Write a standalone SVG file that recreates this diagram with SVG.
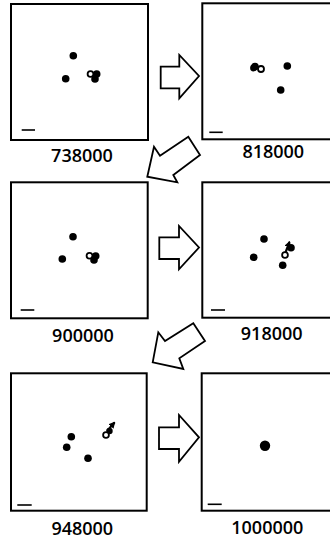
<svg xmlns="http://www.w3.org/2000/svg" width="330" height="543" viewBox="0 0 330 543">
<style>
.frame{fill:#fff;stroke:#000;stroke-width:2}
.dot{fill:#000}
.open{fill:#fff;stroke:#000;stroke-width:1.8}
.bar{stroke:#000;stroke-width:1.6}
.lbl{font-family:"Open Sans","Liberation Sans",sans-serif;font-size:18px;font-weight:600;fill:#000;text-anchor:middle}
.arrow{fill:#fff;stroke:#000;stroke-width:1.8;stroke-linejoin:miter}
.vec{stroke:#000;stroke-width:2.2;fill:none}
</style>
<defs>
<marker id="ah" viewBox="0 0 10 10" refX="8" refY="5" markerWidth="3" markerHeight="3" orient="auto">
<path d="M0,0 L10,5 L0,10 z" fill="#000"/>
</marker>
</defs>
<rect width="330" height="543" fill="#fff"/>

<g id="panel-738000">
<rect class="frame" x="11" y="4" width="137" height="136"/>
<circle class="dot" cx="73.3" cy="55.7" r="3.8"/>
<circle class="dot" cx="65.7" cy="78.7" r="3.8"/>
<circle class="dot" cx="96.7" cy="74" r="3.8"/>
<circle class="dot" cx="95" cy="79" r="3.8"/>
<circle class="open" cx="90.5" cy="74" r="2.9"/>
<line class="bar" x1="21.7" y1="130" x2="35" y2="130"/>
<text class="lbl" x="82" y="162">738000</text>
</g>

<g id="panel-818000">
<rect class="frame" x="202.3" y="3.3" width="132" height="136"/>
<circle class="dot" cx="255" cy="66.5" r="3.8"/>
<circle class="dot" cx="253.5" cy="68" r="3.4"/>
<circle class="open" cx="261" cy="69" r="3"/>
<circle class="dot" cx="287.3" cy="66" r="3.8"/>
<circle class="dot" cx="280.7" cy="90" r="3.8"/>
<line class="bar" x1="209.3" y1="132.3" x2="222.7" y2="132.3"/>
<text class="lbl" x="273.3" y="158.3">818000</text>
</g>

<g id="panel-900000">
<rect class="frame" x="11" y="182.3" width="136.7" height="136"/>
<circle class="dot" cx="73" cy="236.7" r="3.8"/>
<circle class="dot" cx="62.3" cy="259" r="3.8"/>
<circle class="dot" cx="95.7" cy="256" r="3.8"/>
<circle class="dot" cx="94" cy="260" r="3.8"/>
<circle class="open" cx="89.5" cy="255.7" r="2.9"/>
<line class="bar" x1="20.7" y1="310" x2="34.3" y2="310"/>
<text class="lbl" x="83" y="341.7">900000</text>
</g>

<g id="panel-918000">
<rect class="frame" x="202.3" y="182.3" width="132" height="135.4"/>
<circle class="dot" cx="264" cy="239" r="3.8"/>
<circle class="dot" cx="253.7" cy="257.3" r="3.8"/>
<circle class="dot" cx="282.7" cy="265.3" r="3.8"/>
<circle class="dot" cx="291" cy="247.7" r="3.8"/>
<line class="vec" x1="285.5" y1="252.5" x2="289.5" y2="242" marker-end="url(#ah)"/>
<circle class="open" cx="285" cy="255" r="2.9"/>
<line class="bar" x1="211" y1="310" x2="225" y2="310"/>
<text class="lbl" x="271.7" y="340">918000</text>
</g>

<g id="panel-948000">
<rect class="frame" x="11" y="373.3" width="135.7" height="137.4"/>
<circle class="dot" cx="71.3" cy="436.7" r="3.8"/>
<circle class="dot" cx="66.7" cy="447.3" r="3.8"/>
<circle class="dot" cx="88" cy="458.3" r="3.8"/>
<circle class="dot" cx="109.5" cy="431" r="3.2"/>
<line class="vec" x1="107" y1="431" x2="114.5" y2="422.5" marker-end="url(#ah)"/>
<circle class="open" cx="106" cy="435" r="2.9"/>
<line class="bar" x1="17.3" y1="505" x2="31.7" y2="505"/>
<text class="lbl" x="82.3" y="535">948000</text>
</g>

<g id="panel-1000000">
<rect class="frame" x="201.7" y="373.3" width="132" height="137.4"/>
<circle class="dot" cx="265" cy="445.7" r="5.2"/>
<line class="bar" x1="207.7" y1="504.3" x2="221.7" y2="504.3"/>
<text class="lbl" x="267.3" y="534">1000000</text>
</g>

<g id="connectors">
<polygon class="arrow" points="160.7,66.7 179.3,66.7 179.3,55 199,76 179.3,98.3 179.3,88.3 160.7,88.3"/>
<polygon class="arrow" points="147.3,176.7 154,146.7 160,155.7 188.3,136.7 200,155 173.3,175 177.3,182.3"/>
<polygon class="arrow" points="159.3,237.3 179,237.3 179,226 199,247.5 179,269.3 179,259 159.3,259"/>
<polygon class="arrow" points="152.7,362.3 158.3,332.3 165,341 193.3,323.3 205,341 179.3,358.3 183.3,369"/>
<polygon class="arrow" points="159,427.3 179,427.3 179,415 199,437.3 179,461.7 179,449 159,449"/>
</g>
</svg>
